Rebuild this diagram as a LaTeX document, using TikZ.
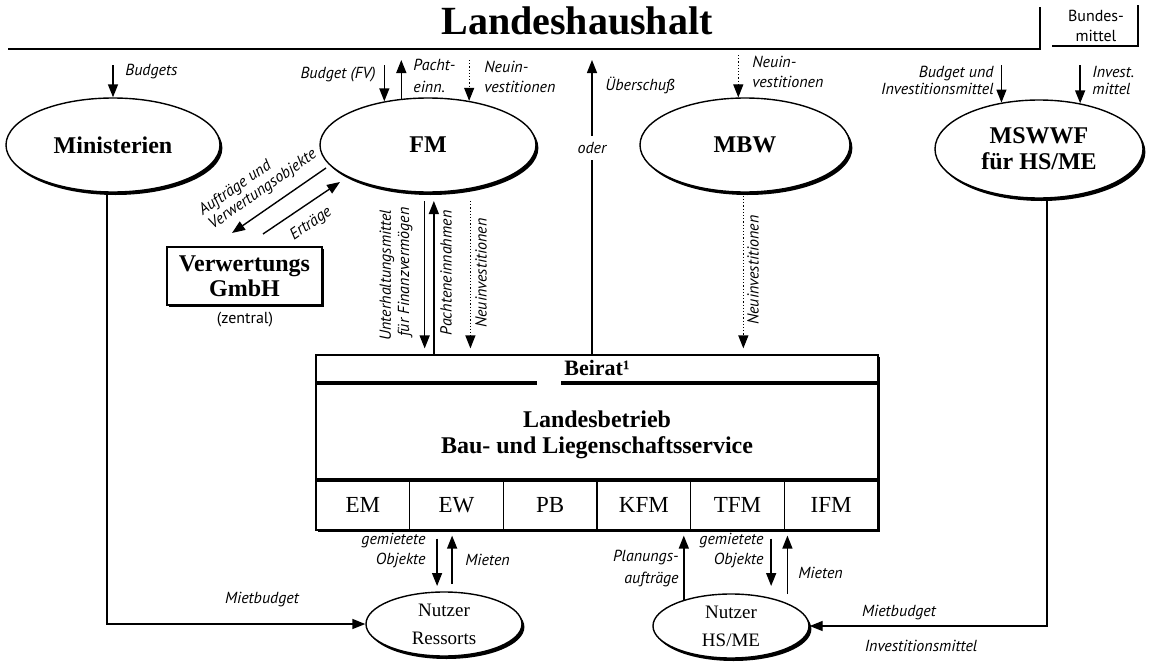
\documentclass[tikz,border=0pt]{standalone}
\usepackage{fontspec}
\setmainfont{Liberation Serif}
\newfontfamily\lblfont{PT Sans}
\usetikzlibrary{arrows.meta,shapes.geometric,shadows,calc}

\begin{document}
\begin{tikzpicture}[x=0.5pt,y=-0.5pt,
  arr/.style={-{Triangle[width=5pt,length=6.5pt]},line width=0.7pt},
  dotarr/.style={-{Triangle[width=5pt,length=6.5pt]},densely dotted,line width=0.6pt},
  lbl/.style={font=\lblfont\itshape\fontsize{8}{10}\selectfont,inner sep=1pt},
  lblup/.style={font=\lblfont\fontsize{8}{10}\selectfont,inner sep=1pt},
  oval/.style={ellipse,draw,line width=0.7pt,fill=white,inner sep=0pt,
    font=\bfseries\fontsize{12}{14}\selectfont,align=center,
    drop shadow={shadow xshift=1.2pt,shadow yshift=-1.5pt,opacity=1,fill=black}},
  smalloval/.style={oval,font=\fontsize{9.5}{14}\selectfont},
  boxshadow/.style={drop shadow={shadow xshift=1pt,shadow yshift=-1pt,opacity=1,fill=black}},
  cell/.style={draw,line width=0.6pt,minimum width=46.83pt,minimum height=25pt,inner sep=0pt,
    font=\fontsize{11.5}{13}\selectfont}
]
\useasboundingbox (0,0) rectangle (1152,664);

% ---------- header ----------
\node[font=\bfseries\fontsize{20}{22}\selectfont] (lh) at (577,21) {Landeshaushalt};
\draw[line width=1.4pt] (8,49) -- (1040,49) -- (1040,7);
\node[lblup,align=center,font=\lblfont\fontsize{8}{10}\selectfont] (bm) at (1096,26) {Bundes-\\mittel};
\draw[line width=1pt] (1052,46) -- (1138,46) -- (1138,5);

% ---------- ellipses ----------
\node[oval,minimum width=107pt,minimum height=47pt] (min) at (113,145) {Ministerien};
\node[oval,minimum width=108pt,minimum height=47pt] (fm)  at (428,145) {FM};
\node[oval,minimum width=105pt,minimum height=47pt] (mbw) at (745,145) {MBW};
\node[oval,minimum width=104pt,minimum height=49pt] (msw) at (1039,149) {MSWWF\\[-1pt]für HS/ME};
\node[smalloval,minimum width=78pt,minimum height=32pt] (res) at (444,624) {Nutzer\\Ressorts};
\node[smalloval,minimum width=78pt,minimum height=32pt] (hs)  at (731,626) {Nutzer\\HS/ME};

% ---------- Verwertungs GmbH ----------
\node[draw,line width=0.7pt,fill=white,boxshadow,minimum width=77.5pt,minimum height=29pt,
  inner sep=0pt,align=center,font=\bfseries\fontsize{12}{12.5}\selectfont] (vg) at (244.5,276)
  {Verwertungs\\GmbH};
\node[lblup] (zen) at (245,320) {(zentral)};

% ---------- Landesbetrieb ----------
\node[draw,line width=0.6pt,fill=white,boxshadow,minimum width=281pt,minimum height=87.5pt,
  inner sep=0pt] (lb) at (597,442.5) {};
\node[font=\bfseries\fontsize{11}{13}\selectfont] (beirat) at (597,368) {Beirat¹};
\draw[line width=1.6pt] (317,383) -- (537,383);
\draw[line width=1.6pt] (561,383) -- (877,383);
\node[align=center,font=\bfseries\fontsize{12}{13}\selectfont] (lbt) at (597,435)
  {Landesbetrieb\\Bau- und Liegenschaftsservice};
\foreach \t [count=\i] in {EM,EW,PB,KFM,TFM,IFM}
  \node[cell] (c\i) at ({316+(\i-0.5)*93.667},505) {\t};
\draw[line width=1.6pt] (317,480) -- (877,480);

% ---------- helper rows ----------
\coordinate (t0) at (0,60);
\coordinate (t1) at (0,65);
\coordinate (tm) at (0,55);
\coordinate (fmb) at (0,201);
\coordinate (yb) at (0,586);
\coordinate (yu) at (0,584);
\coordinate (yu2) at (0,594);

% ---------- arrows from the budget line ----------
\draw[arr] (min.north |- t1) -- (min.north);
\node[lbl,anchor=west] (lbud) at (123,72) {Budgets};

\draw[arr] (fm.135 |- t1) -- (fm.135);
\node[lbl,anchor=east] (lfv) at (378,75) {Budget (FV)};
\draw[arr] (fm.120) -- (fm.120 |- t0);
\node[lbl,anchor=west,align=left,font=\lblfont\itshape\fontsize{8}{11}\selectfont] (lpacht) at (411,76) {Pacht-\\einn.};
\draw[dotarr] (fm.47 |- t0) -- (fm.47);
\node[lbl,anchor=west,align=left] (lneu1) at (482,77) {Neuin-\\vestitionen};

\node[lbl,inner sep=3pt] (oder) at (592,148) {oder};
\draw[line width=0.7pt] (lb.north -| oder) -- (oder.south);
\draw[arr] (oder.north) -- (oder.north |- t0);
\node[lbl,anchor=west] (lueb) at (603,85) {Überschuß};

\draw[dotarr] (mbw.98 |- tm) -- (mbw.98);
\node[lbl,anchor=west,align=left] (lneu2) at (750,72) {Neuin-\\vestitionen};

\draw[arr] (msw.129 |- t1) -- (msw.129);
\node[lbl,anchor=east,align=right,font=\lblfont\itshape\fontsize{8}{8.5}\selectfont] (lbi) at (996,80) {Budget und\\Investitionsmittel};
\draw[arr] (msw.48 |- t1) -- (msw.48);
\node[lbl,anchor=west,align=left,font=\lblfont\itshape\fontsize{8}{8.5}\selectfont] (linv) at (1090,80) {Invest.\\mittel};

% ---------- FM and Verwertungs GmbH ----------
\coordinate (au1) at (326,168);
\coordinate (au2) at (232,233);
\draw[arr] (au1) -- (au2);
\coordinate (er1) at (263,234);
\coordinate (er2) at (340,182);
\draw[arr] (er1) -- (er2);
\node[lbl,rotate=35,align=left,font=\lblfont\itshape\fontsize{8}{8.5}\selectfont] (lau) at (258,183) {Aufträge und\\Verwertungsobjekte};
\node[lbl,rotate=35] (ler) at (311,224) {Erträge};

% ---------- FM and MBW to Landesbetrieb ----------
\draw[arr,shorten >=3pt] (fm.266 |- fmb) -- (fm.266 |- lb.north);
\draw[arr] (fm.277 |- lb.north) -- (fm.277 |- fmb);
\draw[dotarr,shorten >=3pt] (fm.314 |- fmb) -- (fm.314 |- lb.north);
\node[lbl,rotate=90] (lu1) at (387,275) {Unterhaltungsmittel};
\node[lbl,rotate=90] (lu2) at (405,272) {für Finanzvermögen};
\node[lbl,rotate=90] (lpe) at (446,273) {Pachteneinnahmen};
\node[lbl,rotate=90] (lni) at (481,273) {Neuinvestitionen};

\draw[dotarr,shorten >=3pt] (mbw.268) -- (mbw.268 |- lb.north);
\node[lbl,rotate=90] (lni2) at (753,270) {Neuinvestitionen};

% ---------- Landesbetrieb and users ----------
\draw[arr,shorten <=4pt] (res.102 |- lb.south) -- (res.102 |- yb);
\draw[arr,shorten >=2.5pt] (res.76 |- yu) -- (res.76 |- lb.south);
\node[lbl,anchor=east,align=right] (lgo1) at (428,550) {gemietete\\Objekte};
\node[lbl,anchor=west] (lmi1) at (463,560) {Mieten};

\draw[arr,shorten >=2.5pt] (hs.151) -- (hs.151 |- lb.south);
\draw[arr,shorten <=4pt] (hs.35 |- lb.south) -- (hs.35 |- yb);
\draw[arr,shorten >=2.5pt] (hs.22 |- yu2) -- (hs.22 |- lb.south);
\node[lbl,anchor=east,align=right,font=\lblfont\itshape\fontsize{8}{11}\selectfont] (lpl) at (681,569) {Planungs-\\aufträge};
\node[lbl,anchor=east,align=right] (lgo2) at (766,550) {gemietete\\Objekte};
\node[lbl,anchor=west] (lmi2) at (796,573) {Mieten};

% ---------- rent budgets ----------
\draw[arr] ([xshift=-3pt]min.south) |- (res.west);
\node[lbl] (lmb1) at (262,600) {Mietbudget};
\draw[arr] ([xshift=4pt]msw.south) |- (hs.east);
\node[lbl] (lmb2) at (899,613) {Mietbudget};
\node[lbl] (linv2) at (921,646) {Investitionsmittel};
\end{tikzpicture}
\end{document}
